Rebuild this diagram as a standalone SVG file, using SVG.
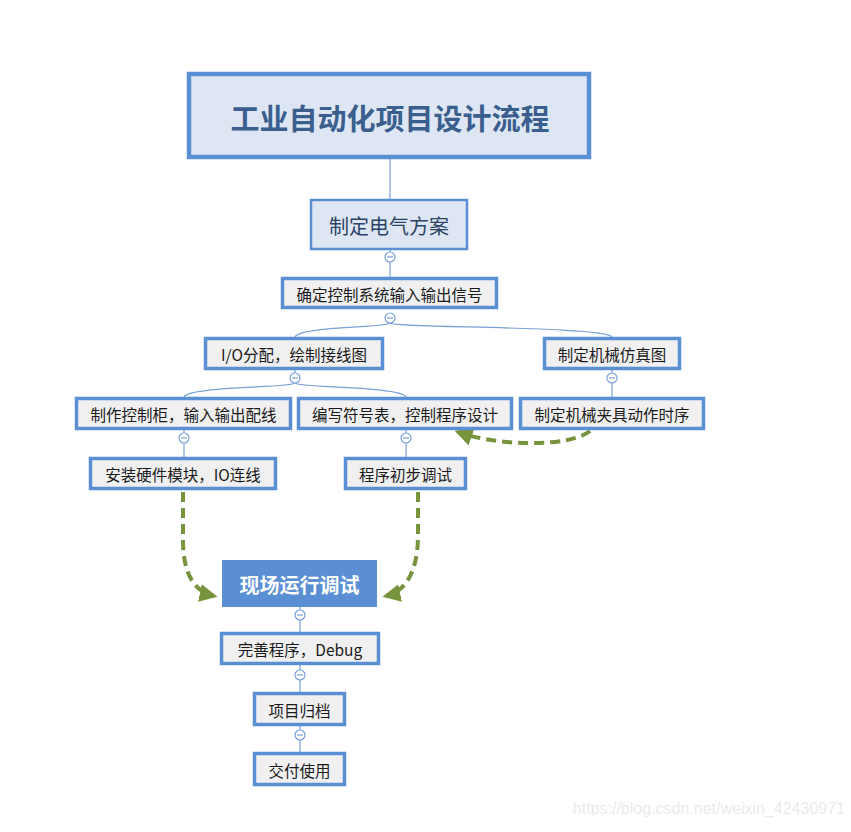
<svg xmlns="http://www.w3.org/2000/svg" width="851" height="832" viewBox="0 0 851 832">
<defs>
<style>
.box{fill:#f0f0f0;stroke:#5b8fd4;stroke-width:3.5}
.t{font-family:"Microsoft YaHei","Noto Sans CJK SC",sans-serif;font-size:15.5px;fill:#1a1a1a;text-anchor:middle;dominant-baseline:central}
.ln{fill:none;stroke:#7aa0d8;stroke-width:1.2}
.cc{fill:#fff;stroke:#7aa0d8;stroke-width:1.2}
.mn{stroke:#7aa0d8;stroke-width:1.2}
.g{fill:none;stroke:#77933c;stroke-width:4;stroke-dasharray:10,6}
</style>
<marker id="ah" viewBox="0 0 10 10" refX="8" refY="5" markerWidth="4.5" markerHeight="4.5" orient="auto" markerUnits="strokeWidth">
<path d="M0,0 L10,5 L0,10 Z" fill="#77933c"/>
</marker>
</defs>
<rect width="851" height="832" fill="#fff"/>
<g id="connectors">
<line class="ln" x1="390" y1="159" x2="390" y2="199"/>
<line class="ln" x1="390" y1="250" x2="390" y2="277"/>
<path class="ln" d="M390,323 C388,328 300,326 295,337"/>
<path class="ln" d="M390,323 C392,328 606,326 612,337"/>
<line class="ln" x1="295" y1="370" x2="295" y2="373"/>
<path class="ln" d="M295,383 C293,388 189,386 184,397"/>
<path class="ln" d="M295,383 C297,388 401,386 406,397"/>
<line class="ln" x1="612" y1="370" x2="612" y2="397"/>
<line class="ln" x1="184" y1="430" x2="184" y2="457"/>
<line class="ln" x1="406" y1="430" x2="406" y2="457"/>
<line class="ln" x1="300" y1="607" x2="300" y2="632"/>
<line class="ln" x1="300" y1="665" x2="300" y2="692"/>
<line class="ln" x1="300" y1="726" x2="300" y2="752"/>
<g>
<circle class="cc" cx="390" cy="257" r="5"/><line class="mn" x1="387" y1="257" x2="393" y2="257"/>
<circle class="cc" cx="390" cy="318" r="5"/><line class="mn" x1="387" y1="318" x2="393" y2="318"/>
<circle class="cc" cx="295" cy="378" r="5"/><line class="mn" x1="292" y1="378" x2="298" y2="378"/>
<circle class="cc" cx="612" cy="378" r="5"/><line class="mn" x1="609" y1="378" x2="615" y2="378"/>
<circle class="cc" cx="184" cy="438" r="5"/><line class="mn" x1="181" y1="438" x2="187" y2="438"/>
<circle class="cc" cx="406" cy="438" r="5"/><line class="mn" x1="403" y1="438" x2="409" y2="438"/>
<circle class="cc" cx="300" cy="615" r="5"/><line class="mn" x1="297" y1="615" x2="303" y2="615"/>
<circle class="cc" cx="300" cy="675" r="5"/><line class="mn" x1="297" y1="675" x2="303" y2="675"/>
<circle class="cc" cx="300" cy="735" r="5"/><line class="mn" x1="297" y1="735" x2="303" y2="735"/>
</g>
<path class="g" d="M183,492 L183,540 C183,575 195,592 214,596" marker-end="url(#ah)"/>
<path class="g" d="M418,492 L418,535 C418,572 405,592 386,596" marker-end="url(#ah)"/>
<path class="g" d="M590,431 C570,447 500,447 458,432" marker-end="url(#ah)"/>
</g>
<g id="title">
<rect x="189" y="74" width="400" height="83" fill="#dde6f2" stroke="#5b8fd4" stroke-width="4.5"/>
<text x="390" y="117" class="t" style="font-size:29px;font-weight:bold;fill:#3a5f8e">工业自动化项目设计流程</text>
</g>
<g id="n1">
<rect x="311" y="200" width="156" height="49" fill="#dde6f2" stroke="#5b8fd4" stroke-width="2.5"/>
<text x="389" y="225" class="t" style="font-size:20px;fill:#2c4466">制定电气方案</text>
</g>
<g id="n2">
<rect class="box" x="282.5" y="278.5" width="214" height="29"/>
<text x="389.5" y="294" class="t">确定控制系统输入输出信号</text>
</g>
<g id="n3">
<rect class="box" x="205.5" y="338.5" width="177" height="30"/>
<text x="294" y="354" class="t">I/O分配，绘制接线图</text>
</g>
<g id="n4">
<rect class="box" x="544.5" y="338.5" width="135" height="30"/>
<text x="612" y="354" class="t">制定机械仿真图</text>
</g>
<g id="n5">
<rect class="box" x="76.5" y="398.5" width="214" height="30"/>
<text x="183.5" y="414" class="t">制作控制柜，输入输出配线</text>
</g>
<g id="n6">
<rect class="box" x="298.5" y="398.5" width="213" height="30"/>
<text x="405" y="414" class="t">编写符号表，控制程序设计</text>
</g>
<g id="n7">
<rect class="box" x="520.5" y="398.5" width="183" height="30"/>
<text x="612" y="414" class="t">制定机械夹具动作时序</text>
</g>
<g id="n8">
<rect class="box" x="90.5" y="458.5" width="185" height="30"/>
<text x="183" y="474" class="t">安装硬件模块，IO连线</text>
</g>
<g id="n9">
<rect class="box" x="345.5" y="458.5" width="120" height="30"/>
<text x="405.5" y="474" class="t">程序初步调试</text>
</g>
<g id="n10">
<rect x="222" y="560" width="155" height="47" fill="#5a8fd4"/>
<text x="299.5" y="584" class="t" style="font-size:20px;font-weight:bold;fill:#fff">现场运行调试</text>
</g>
<g id="n11">
<rect class="box" x="221.5" y="633.5" width="157" height="30"/>
<text x="300" y="649" class="t">完善程序，Debug</text>
</g>
<g id="n12">
<rect class="box" x="254.5" y="693.5" width="90" height="31"/>
<text x="299.5" y="710" class="t">项目归档</text>
</g>
<g id="n13">
<rect class="box" x="254.5" y="753.5" width="90" height="31"/>
<text x="299.5" y="770" class="t">交付使用</text>
</g>
<text x="845" y="814" style="font-family:'Liberation Sans',Arial,sans-serif;font-size:16px;fill:#ebebeb;text-anchor:end">https://blog.csdn.net/weixin_42430971</text>
</svg>
